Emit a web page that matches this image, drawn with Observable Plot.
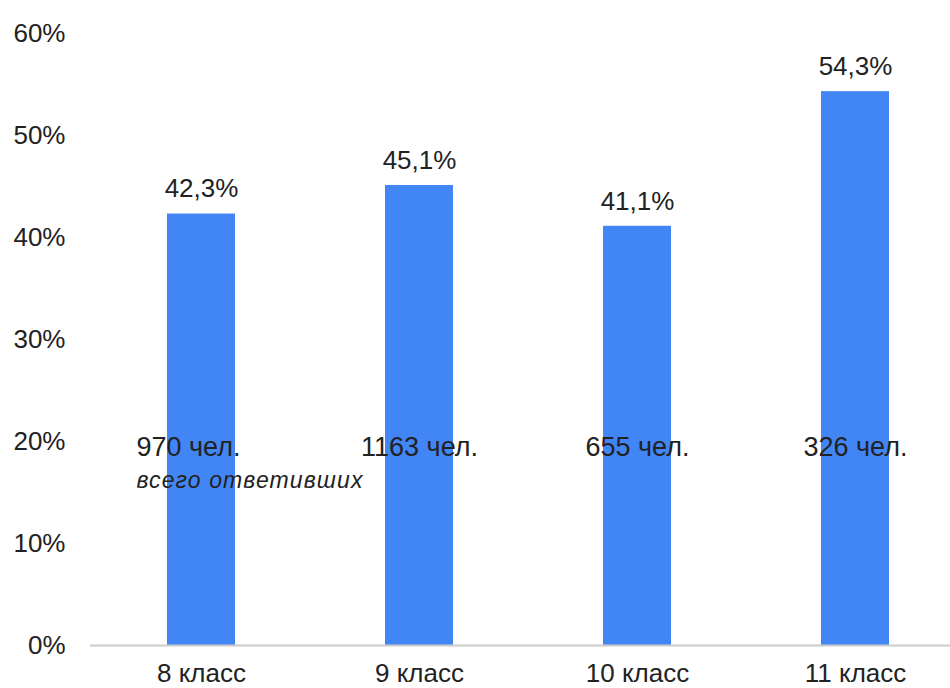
<!DOCTYPE html>
<html>
<head>
<meta charset="utf-8">
<script src="https://cdn.jsdelivr.net/npm/d3@7"></script>
<script src="https://cdn.jsdelivr.net/npm/@observablehq/plot@0.6"></script>
<style>
  html, body { margin: 0; padding: 0; background: #fff; }
  #chart svg { display: block; }
</style>
</head>
<body>
<div id="chart"></div>
<script>
const grades = ["8 класс", "9 класс", "10 класс", "11 класс"];
const shares = [42.3, 45.1, 41.1, 54.3];
const counts = ["970 чел.", "1163 чел.", "655 чел.", "326 чел."];
const note = "всего ответивших";
const yTicks = [0, 10, 20, 30, 40, 50, 60];
const countLevel = 19.4;

const data = grades.map((g, i) => ({grade: g, share: shares[i], count: counts[i]}));
const fmt = v => v.toFixed(1).replace(".", ",") + "%";

const chart = Plot.plot({
  width: 950,
  height: 688,
  marginLeft: 90,
  marginRight: 0,
  marginTop: 33,
  marginBottom: 43,
  style: {fontFamily: "'Liberation Sans', Arial, sans-serif", fontSize: "26px", color: "#222", background: "#fff"},
  x: {domain: grades, paddingInner: 0.6885, paddingOuter: 0.314, align: 0.554, label: null, tickSize: 0, tickPadding: 18},
  y: {domain: [0, 60], ticks: yTicks, tickFormat: d => d + "%", label: null, tickSize: 0, tickPadding: 25},
  marks: [
    Plot.barY(data, {x: "grade", y: "share", fill: "#4285F4"}),
    Plot.ruleY([0], {stroke: "#cccccc", strokeWidth: 2}),
    Plot.text(data, {x: "grade", y: "share", text: d => fmt(d.share), dy: -25, fontSize: 26, fill: "#222"}),
    Plot.text(data.slice(1), {x: "grade", y: () => countLevel, text: "count", fontSize: 27, fill: "#222"}),
    Plot.text(data.slice(0, 1), {x: "grade", y: () => countLevel, text: "count", textAnchor: "start", dx: -65, fontSize: 27, fill: "#222"}),
    Plot.text(data.slice(0, 1), {x: "grade", y: () => countLevel, text: () => note, textAnchor: "start", dx: -65, dy: 33, fontSize: 23, fontStyle: "italic", fill: "#222"})
  ]
});
d3.select(chart).selectAll("g[font-style='italic']").attr("letter-spacing", "1.1px");
document.getElementById("chart").appendChild(chart);
</script>
</body>
</html>
